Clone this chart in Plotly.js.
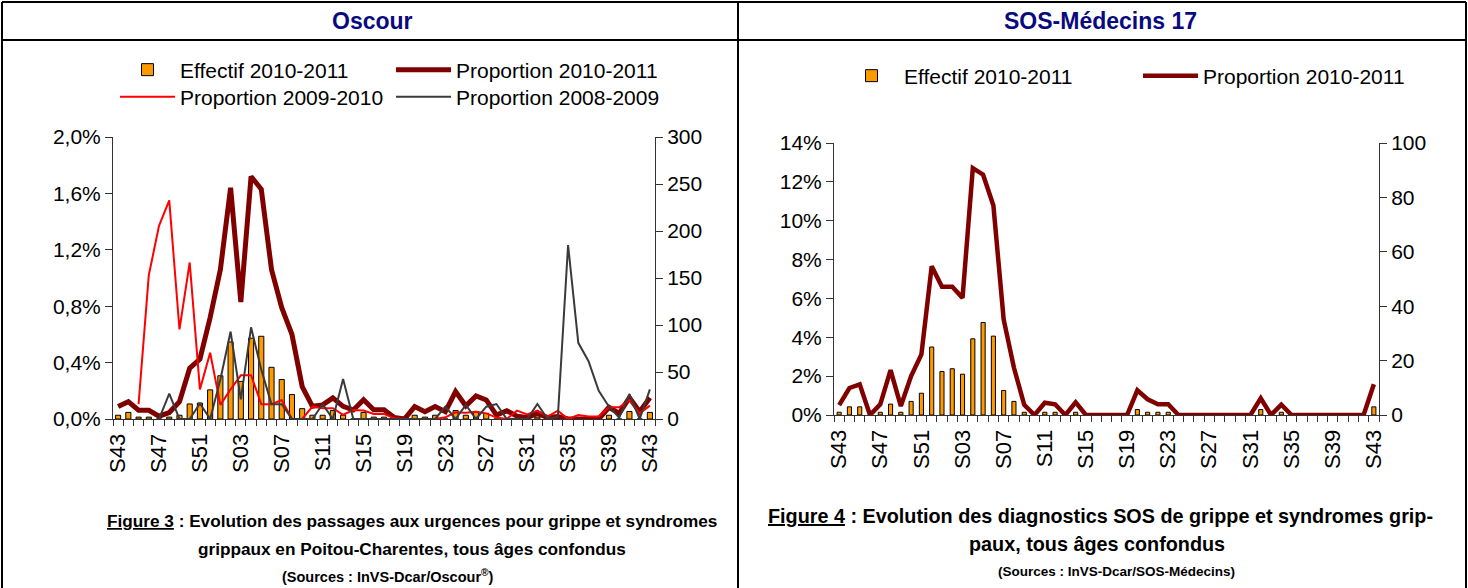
<!DOCTYPE html>
<html><head><meta charset="utf-8">
<script src="https://cdn.plot.ly/plotly-3.0.1.min.js"></script>
<style>html,body{margin:0;padding:0;background:#fff;} #chart{width:1468px;height:588px;}</style>
</head><body><div id="chart"></div>
<script>
// ---- Data ----
const weeks = ["S43","S44","S45","S46","S47","S48","S49","S50","S51","S52",
  "S01","S02","S03","S04","S05","S06","S07","S08","S09","S10","S11","S12","S13","S14","S15","S16","S17","S18","S19","S20",
  "S21","S22","S23","S24","S25","S26","S27","S28","S29","S30","S31","S32","S33","S34","S35","S36","S37","S38","S39","S40",
  "S41","S42","S43"];

// Oscour - Effectif 2010-2011 (right axis, count)
const oscourEffectif = [4,7,2,2,0,2,4,16,17,31,46,82,40,86,88,55,42,26,11,4,
  4,9,4,0,7,2,2,0,0,4,2,4,0,9,4,8,6,0,0,0,
  0,2,0,0,0,0,0,0,4,0,8,0,7];
// Oscour - proportions (left axis, %)
const oscourProp1011 = [0.088,0.123,0.062,0.062,0.020,0.046,0.123,0.36,0.425,0.72,
  1.06,1.64,0.83,1.72,1.63,1.06,0.79,0.60,0.23,0.09,0.10,0.15,0.09,0.064,0.136,0.066,0.066,0.01,0.0,0.088,
  0.052,0.088,0.052,0.195,0.093,0.163,0.135,0.028,0.059,0.02,0.01,0.04,0.01,0.017,0,0,0,0,0.083,0.04,
  0.151,0.052,0.151];
const oscourProp0910 = [null,null,0.105,1.02,1.37,1.55,0.635,1.11,0.21,0.47,
  0.10,0.21,0.31,0.31,0.105,0.105,0.135,0.0,0.0,0.088,0.076,0.076,0.03,0.064,0.06,0.036,0.036,0.005,0,0,
  0,0,0.012,0.048,0.045,0.052,0.04,0.01,0,0.059,0.033,0.059,0.017,0.059,0,0.028,0.017,0.017,0.083,0.083,
  0.135,0.04,0.095];
const oscourProp0809 = [null,null,null,null,0,0.18,0,0,0.11,0,
  0.28,0.62,0.14,0.65,0.35,0.105,0.105,0,0,0,0.105,0,0.283,0,0,0,0,0,0,0,
  0,0,0.088,0,0.1,0,0.087,0.106,0,0,0,0.106,0,0.017,1.234,0.54,0.41,0.2,0.087,0.01,
  0.177,0,0.21];

// SOS-Médecins 17
const sosEffectif = [1,3,3,0,1,4,1,5,8,25,
  16,17,15,28,34,29,9,5,1,0,1,1,0,1,0,0,0,0,0,2,
  1,1,1,0,0,0,0,0,0,0,0,2,0,1,0,0,0,0,0,0,
  0,0,3];
const sosProp1011 = [0.51,1.39,1.58,0,0.55,2.31,0.46,2.0,3.12,7.66,
  6.6,6.6,6.03,12.71,12.37,10.78,4.92,2.43,0.52,0,0.63,0.55,0,0.65,0,0,0,0,0,1.27,
  0.81,0.55,0.55,0,0,0,0,0,0,0,0,0.86,0,0.53,0,0,0,0,0,0,
  0,0,1.58];

// ---- Helpers ----
const W = 1468, H = 588;
const px = x => x / W, py = y => 1 - y / H;
const idx = weeks.map((_, i) => i);
const tickIdx = idx.filter(i => i % 4 === 0);
const tickTxt = tickIdx.map(i => weeks[i]);
const pct = a => a.map(v => v === null ? null : v / 100);

const BASE = '"Liberation Sans", Arial, sans-serif';
const AX = '#333333';
const ORANGE = '#FF9900', DARKRED = '#800000', RED = '#FF0000', GRAY = '#3a3a3a';

const traces = [
  {type:'bar', x: idx, y: oscourEffectif, xaxis:'x', yaxis:'y', width:0.5, name:'Effectif 2010-2011',
   marker:{color:ORANGE, line:{color:'#000', width:1}}, legend:'legend2'},
  {type:'scatter', mode:'lines', x: idx, y: pct(oscourProp1011), xaxis:'x', yaxis:'y2', name:'Proportion 2010-2011',
   line:{color:DARKRED, width:5}, legend:'legend3'},
  {type:'scatter', mode:'lines', x: idx, y: pct(oscourProp0910), xaxis:'x', yaxis:'y2', name:'Proportion 2009-2010',
   line:{color:RED, width:2}, legend:'legend4'},
  {type:'scatter', mode:'lines', x: idx, y: pct(oscourProp0809), xaxis:'x', yaxis:'y2', name:'Proportion 2008-2009',
   line:{color:GRAY, width:2}, legend:'legend5'},
  {type:'bar', x: idx, y: sosEffectif, xaxis:'x2', yaxis:'y3', width:0.4, name:'Effectif 2010-2011',
   marker:{color:ORANGE, line:{color:'#000', width:1}}, legend:'legend6'},
  {type:'scatter', mode:'lines', x: idx, y: pct(sosProp1011), xaxis:'x2', yaxis:'y4', name:'Proportion 2010-2011',
   line:{color:DARKRED, width:4.5}, legend:'legend7'}
];

function xax(d0, d1, anchor) {
  return {domain:[px(d0), px(d1)], anchor: anchor, range:[-0.5, 52.5], tickmode:'array', tickvals: tickIdx, ticktext: tickTxt,
    tickangle:-90, ticks:'outside', ticklen:5, tickcolor:'rgba(0,0,0,0)', showline:true, linecolor:AX, linewidth:1,
    zeroline:false, showgrid:false, tickfont:{family:BASE, size:22, color:'#000'},
    minor:{tickmode:'linear', tick0:-0.5, dtick:1, ticks:'outside', ticklen:6, tickcolor:AX, showgrid:false}};
}
function yax(dom, anchor, side, range, dtick, fmt, overlay) {
  const o = {domain: dom, anchor: anchor, side: side, range: range, tickmode:'linear', tick0:0, dtick: dtick,
    ticks:'outside', ticklen:7, tickcolor:AX, showline:true, linecolor:AX, linewidth:1, showgrid:false, zeroline:false,
    tickfont:{family:BASE, size:21, color:'#000'}};
  if (fmt) o.tickformat = fmt;
  if (overlay) { o.overlaying = overlay; delete o.domain; }
  return o;
}
function leg(x, y) {
  return {x:px(x), y:py(y), xanchor:'left', yanchor:'middle', orientation:'h', bgcolor:'rgba(0,0,0,0)',
    borderwidth:0, itemwidth:55, font:{family:BASE, size:21, color:'#000'}};
}
function ann(text, x, y, size, color) {
  return {text:text, x:px(x), y:py(y), xref:'paper', yref:'paper', showarrow:false, xanchor:'center', yanchor:'middle',
    font:{family:BASE, size:size, color:color || '#000', weight:'bold'}};
}
function ln(x0, y0, x1, y1) {
  return {type:'line', xref:'paper', yref:'paper', x0:px(x0), y0:py(y0), x1:px(x1), y1:py(y1), line:{color:'#000', width:2}};
}

const layout = {
  width: W, height: H, margin:{l:0, r:0, t:0, b:0}, paper_bgcolor:'#fff', plot_bgcolor:'rgba(0,0,0,0)',
  separators: ',.', hovermode:false, showlegend:true,
  xaxis: xax(113, 655, 'y'),
  yaxis: yax([py(419), py(137)], 'x', 'right', [0, 300], 50, null, null),
  yaxis2: yax(null, 'x', 'left', [0, 0.02], 0.004, '.1%', 'y'),
  xaxis2: xax(834, 1379, 'y3'),
  yaxis3: yax([py(415), py(143)], 'x2', 'right', [0, 100], 20, null, null),
  yaxis4: yax(null, 'x2', 'left', [0, 0.14], 0.02, '.0%', 'y3'),
  legend2: leg(115, 70), legend3: leg(391, 70), legend4: leg(115, 97), legend5: leg(391, 97),
  legend6: leg(839, 76), legend7: leg(1138, 76),
  shapes: [ln(2, 2, 1466, 2), ln(2, 40, 1466, 40), ln(2, 2, 2, 600), ln(738, 2, 738, 600), ln(1466, 2, 1466, 600)],
  annotations: [
    ann('Oscour', 372, 21, 23, '#0A0A80'),
    ann('SOS-Médecins 17', 1100, 21, 23, '#0A0A80'),
    ann('<u>Figure 3</u> : Evolution des passages aux urgences pour grippe et syndromes', 412, 521, 17.2),
    ann('grippaux en Poitou-Charentes, tous âges confondus', 412, 549, 17.2),
    ann('(Sources : InVS-Dcar/Oscour<sup>®</sup>)', 388, 576, 14.5),
    ann('<u>Figure 4</u> : Evolution des diagnostics SOS de grippe et syndromes grip-', 1100, 516, 19.8),
    ann('paux, tous âges confondus', 1097, 544, 19.8),
    ann('(Sources : InVS-Dcar/SOS-Médecins)', 1116, 571, 13.5)
  ]
};

Plotly.newPlot('chart', traces, layout, {staticPlot:true, displayModeBar:false});
</script>
</body></html>
